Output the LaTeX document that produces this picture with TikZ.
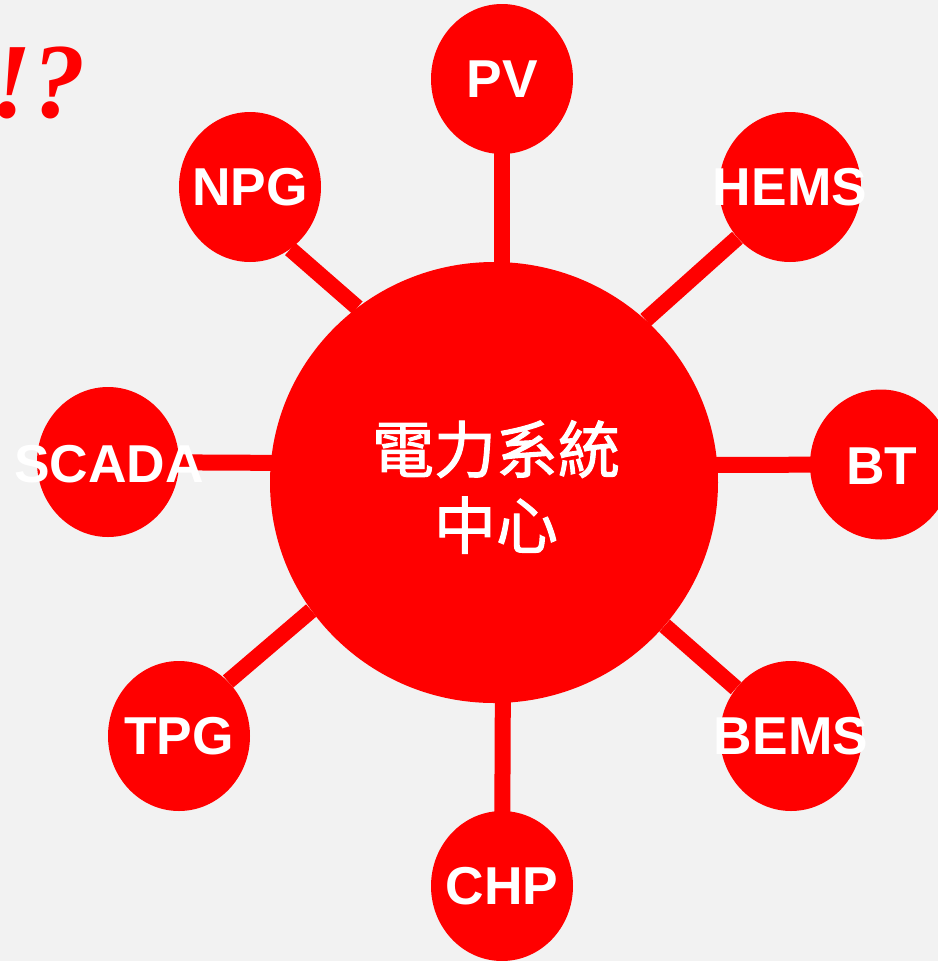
\documentclass[tikz,border=0pt]{standalone}
\usepackage{fontspec}
\setmainfont{Liberation Sans}
\newfontfamily\cjkfont[FakeBold=1.6]{Noto Sans CJK TC}
\newfontfamily\serifbi{Liberation Serif}
\usetikzlibrary{shapes.geometric}
\definecolor{bgcol}{HTML}{F2F2F2}
\definecolor{redcol}{HTML}{FF0000}
\pgfdeclarelayer{bg}
\pgfdeclarelayer{links}
\pgfsetlayers{bg,links,main}
\tikzset{
  sat/.style={ellipse, fill=redcol, draw=none, minimum width=106.5pt, minimum height=112.5pt, inner sep=0pt},
  hub/.style={ellipse, fill=redcol, draw=none, minimum width=336pt, minimum height=330.75pt, inner sep=0pt},
  lbl/.style={text=white, font=\fontsize{40}{48}\selectfont\bfseries, inner sep=0pt},
  link/.style={draw=redcol, line width=12pt},
}
\begin{document}
\begin{tikzpicture}[x=0.75pt, y=-0.75pt]
\begin{pgfonlayer}{bg}
  \fill[bgcol] (0,0) rectangle (938,961);
\end{pgfonlayer}
\useasboundingbox (0,0) rectangle (938,961);

\node[hub] (main) at (494,482.5) {};
\node[text=white, font=\cjkfont\fontsize{46.5}{57}\selectfont, align=center, inner sep=0pt] (maintxt) at (496,487) {電力系統\\中心};

\node[sat] (pv) at (502,79) {};
\node[sat] (npg) at (250,187) {};
\node[sat] (hems) at (790,187) {};
\node[sat] (scada) at (108,462) {};
\node[sat] (bt) at (881,464.5) {};
\node[sat] (tpg) at (179,736) {};
\node[sat] (bems) at (791,736) {};
\node[sat] (chp) at (502,886) {};

\node[lbl] (pvt) at (pv) {PV};
\node[lbl] (npgt) at (npg) {NPG};
\node[lbl] (hemst) at (hems) {HEMS};
\node[lbl] (scadat) at (109,464) {SCADA};
\node[lbl] (btt) at (882,466) {BT};
\node[lbl] (tpgt) at (tpg) {TPG};
\node[lbl] (bemst) at (bems) {BEMS};
\node[lbl] (chpt) at (chp) {CHP};

\coordinate (pvfoot) at (502,300);
\coordinate (chphead) at (503,660);
\coordinate (scadaend) at (300,463);
\coordinate (btend) at (690,465);

\begin{pgfonlayer}{links}
  \draw[link] (pv.center) -- (pvfoot);
  \draw[link] (chp.center) -- (chphead);
  \draw[link] (scada.center) -- (scadaend);
  \draw[link] (bt.center) -- (btend);
  \draw[link] (npg.-57) -- (main.128);
  \draw[link] (hems.-136) -- (main.47);
  \draw[link] (tpg.48) -- (main.-145);
  \draw[link] (bems.139) -- (main.-40);
\end{pgfonlayer}

\node[anchor=base east, text=redcol, font=\serifbi\bfseries\itshape\fontsize{80}{90}\selectfont, inner sep=0pt] (excl) at (86,117) {!?};
\end{tikzpicture}
\end{document}
